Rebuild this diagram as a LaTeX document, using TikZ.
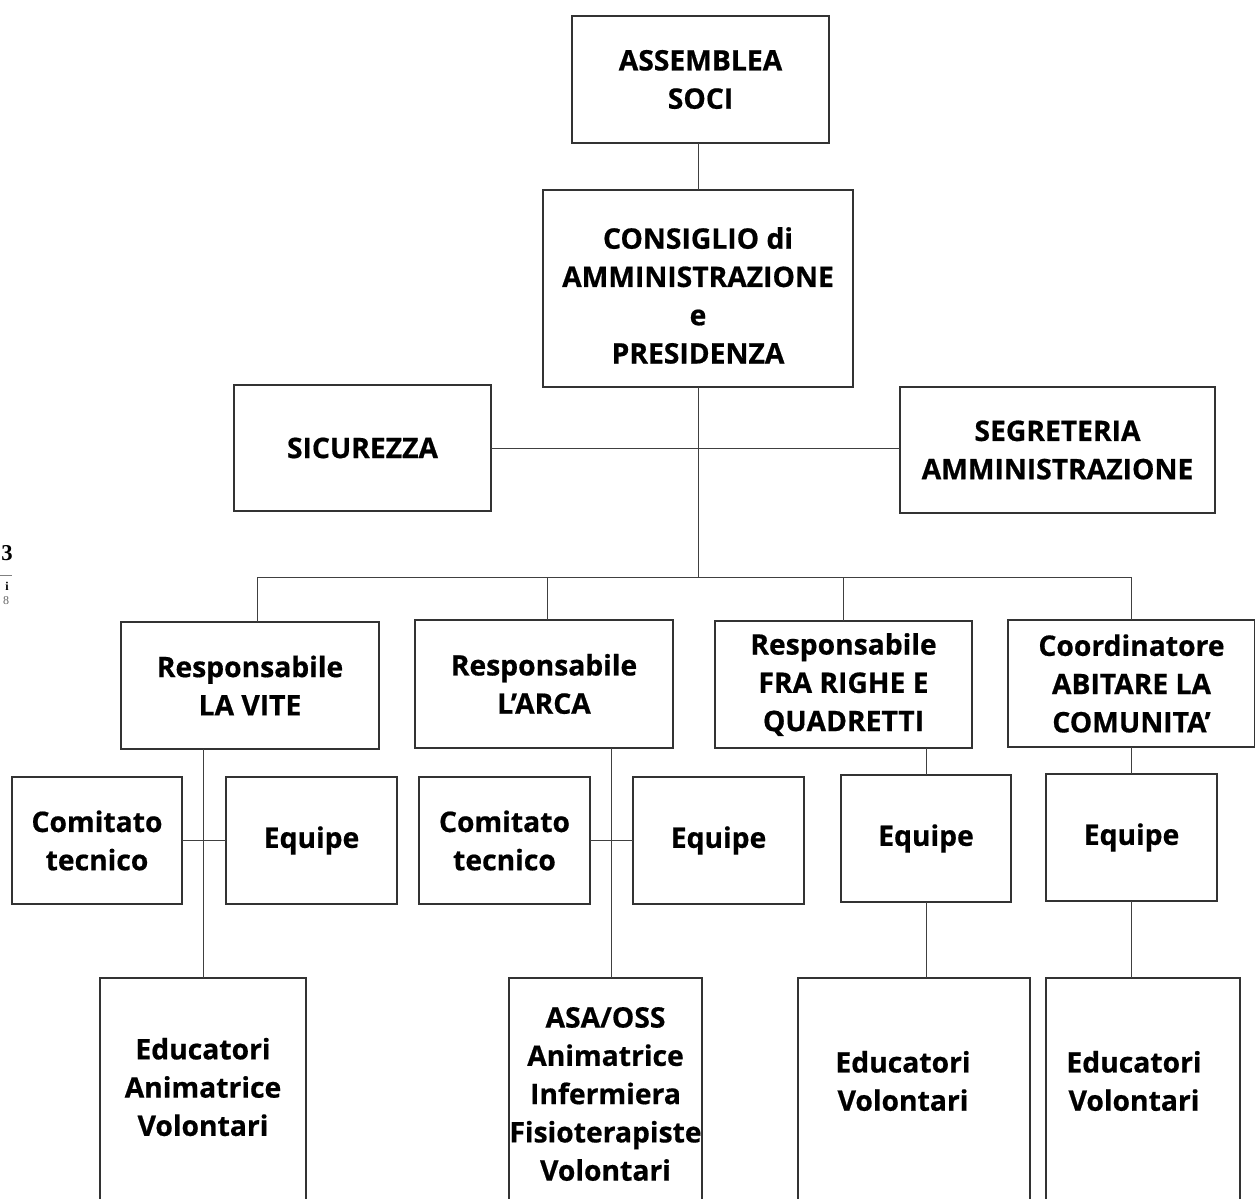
\documentclass[tikz,border=0pt]{standalone}
\usepackage{fontspec}
\setmainfont{Open Sans}[BoldFeatures={FakeBold=0.6}]
\newfontfamily\artfont{Liberation Serif}
\begin{document}
\begin{tikzpicture}[x=0.75pt,y=-0.75pt,
  bx/.style 2 args={draw=black!80, line width=0.8pt, fill=white, inner sep=0pt, outer sep=0pt,
    minimum width=#1*0.75pt, minimum height=#2*0.75pt, align=center,
    font=\fontsize{21.2}{28.7}\selectfont\bfseries},
  txt/.style={inner sep=0pt, align=center, font=\fontsize{21.2}{28.7}\selectfont\bfseries},
  ln/.style={draw=black!75, line width=0.75pt}]
\useasboundingbox (0,0) rectangle (1255,1198);
\clip (0,0) rectangle (1255,1198);
\fill[white] (0,0) rectangle (1255,1198);
% small fragment at left edge
\node[inner sep=0pt, font=\artfont\fontsize{17}{17}\selectfont\bfseries] (fr1) at (7,553) {3};
\coordinate (fl1) at (0,575);
\coordinate (fl2) at (12,575);
\draw[black!50, line width=0.5pt] (fl1) -- (fl2);
\node[inner sep=0pt, font=\artfont\fontsize{9}{9}\selectfont\bfseries] (fr2) at (7,586) {i};
\node[inner sep=0pt, text=black!60, font=\artfont\fontsize{9}{9}\selectfont] (fr3) at (6,601) {8};
% level 0-1
\node[bx={257}{127}] (soci) at (700.5,79.5) {ASSEMBLEA\\SOCI};
\node[bx={310}{197}] (cda) at (698,288.5) {};
\node[txt] (cdatxt) at (698,295.5) {CONSIGLIO di\\AMMINISTRAZIONE\\e\\PRESIDENZA};
\node[bx={257}{126}] (sic) at (362.5,448) {SICUREZZA};
\node[bx={315}{126}] (seg) at (1057.5,450) {SEGRETERIA\\AMMINISTRAZIONE};
% level 2
\node[bx={258}{127}] (vite) at (250,685.5) {Responsabile\\LA VITE};
\node[bx={258}{128}] (arca) at (544,684) {Responsabile\\L’ARCA};
\node[bx={257}{127}] (fra) at (843.5,684.5) {Responsabile\\FRA RIGHE E\\QUADRETTI};
\node[bx={247}{127}] (abit) at (1131.5,683.5) {Coordinatore\\ABITARE LA\\COMUNITA’};
% level 3
\node[bx={170}{127}] (com1) at (97,840.5) {Comitato\\tecnico};
\node[bx={171}{127}] (eq1) at (311.5,840.5) {Equipe};
\node[bx={171}{127}] (com2) at (504.5,840.5) {Comitato\\tecnico};
\node[bx={171}{127}] (eq2) at (718.5,840.5) {Equipe};
\node[bx={170}{127}] (eq3) at (926,838.5) {Equipe};
\node[bx={171}{127}] (eq4) at (1131.5,837.5) {Equipe};
% level 4 (boxes run past the bottom edge)
\node[bx={206}{260}, anchor=north] (f1) at (203,978) {};
\node[bx={193}{260}, anchor=north] (f2) at (605.5,978) {};
\node[bx={232}{260}, anchor=north] (f3) at (914,978) {};
\node[bx={194}{260}, anchor=north] (f4) at (1143,978) {};
\node[txt] (t1) at (203,1087) {Educatori\\Animatrice\\Volontari};
\node[txt] (t2) at (605.5,1094) {ASA/OSS\\Animatrice\\Infermiera\\Fisioterapiste\\Volontari};
\node[txt] (t3) at (903,1081) {Educatori\\Volontari};
\node[txt] (t4) at (1134,1081) {Educatori\\Volontari};
% connectors
\coordinate (trunk) at (698,577);
\coordinate (busL) at (257,577);
\coordinate (busR) at (1132,577);
\coordinate (d2) at (547,577);
\coordinate (d3) at (843,577);
\coordinate (d4) at (1131,577);
\draw[ln] (cda.north) -- (cda.north |- soci.south);
\draw[ln] (cda.south) -- (trunk);
\draw[ln] (sic.east) -- (seg.west |- sic.east);
\draw[ln] (busL) -- (busR);
\draw[ln] (busL) -- (busL |- vite.north);
\draw[ln] (d2) -- (d2 |- arca.north);
\draw[ln] (d3) -- (d3 |- fra.north);
\draw[ln] (d4) -- (d4 |- abit.north);
\coordinate (v1) at (203,748);
\coordinate (v2) at (611,748);
\draw[ln] (v1 |- vite.south) -- (v1 |- f1.north);
\draw[ln] (com1.east) -- (eq1.west);
\draw[ln] (v2 |- arca.south) -- (v2 |- f2.north);
\draw[ln] (com2.east) -- (eq2.west);
\draw[ln] (eq3.north |- fra.south) -- (eq3.north);
\draw[ln] (eq3.south) -- (eq3.south |- f3.north);
\draw[ln] (eq4.north |- abit.south) -- (eq4.north);
\draw[ln] (eq4.south) -- (eq4.south |- f4.north);
\end{tikzpicture}
\end{document}
